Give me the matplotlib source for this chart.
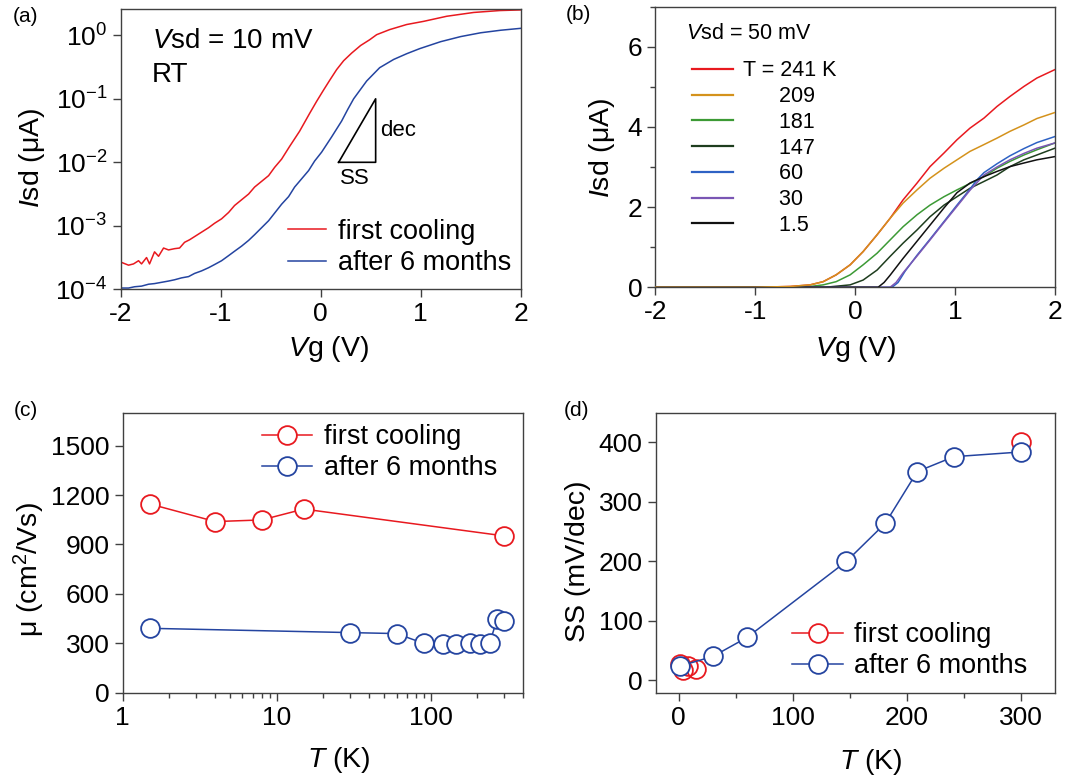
import numpy as np
import matplotlib
matplotlib.use('Agg')
import matplotlib.pyplot as plt
from matplotlib.ticker import MultipleLocator, LogLocator, NullLocator, FuncFormatter

plt.rcParams['font.family'] = ['Liberation Sans', 'DejaVu Sans']
plt.rcParams['mathtext.fontset'] = 'custom'
plt.rcParams['mathtext.rm'] = 'Liberation Sans'
plt.rcParams['mathtext.it'] = 'Liberation Sans:italic'
plt.rcParams['mathtext.bf'] = 'Liberation Sans:bold'
plt.rcParams['axes.unicode_minus'] = False

RED = '#e8191f'
BLUE = '#2444a0'

# (a) transfer curves at room temperature, log10 of Isd in uA
vg_first = [-2.00, -1.92, -1.87, -1.82, -1.79, -1.74, -1.71, -1.66, -1.62, -1.57,
            -1.52, -1.46, -1.41, -1.36, -1.31, -1.26, -1.19, -1.12, -1.06, -0.99,
            -0.92, -0.86, -0.79, -0.72, -0.66, -0.59, -0.52, -0.46, -0.39, -0.31,
            -0.21, -0.11, -0.04, 0.03, 0.09, 0.16, 0.23, 0.31, 0.40, 0.49,
            0.56, 0.69, 0.86, 1.03, 1.26, 1.53, 1.79, 2.00]
logi_first = [-3.57, -3.62, -3.60, -3.55, -3.60, -3.50, -3.60, -3.41, -3.48, -3.35,
              -3.38, -3.36, -3.35, -3.26, -3.22, -3.17, -3.10, -3.03, -2.96, -2.89,
              -2.79, -2.68, -2.59, -2.50, -2.39, -2.30, -2.21, -2.08, -1.95, -1.75,
              -1.51, -1.23, -1.04, -0.86, -0.71, -0.54, -0.40, -0.28, -0.16, -0.07,
              0.01, 0.09, 0.17, 0.22, 0.30, 0.36, 0.39, 0.40]
vg_aged = [-2.00, -1.92, -1.86, -1.79, -1.72, -1.66, -1.59, -1.52, -1.46, -1.39,
           -1.32, -1.26, -1.19, -1.12, -1.06, -0.99, -0.92, -0.86, -0.79, -0.72,
           -0.66, -0.59, -0.52, -0.46, -0.39, -0.32, -0.26, -0.19, -0.12, -0.06,
           0.01, 0.11, 0.21, 0.27, 0.33, 0.46, 0.59, 0.73, 0.86, 0.99,
           1.20, 1.40, 1.60, 1.80, 2.00]
logi_aged = [-3.98, -3.98, -3.96, -3.95, -3.92, -3.91, -3.89, -3.87, -3.85, -3.82,
             -3.80, -3.75, -3.71, -3.66, -3.61, -3.55, -3.47, -3.40, -3.32, -3.23,
             -3.14, -3.03, -2.92, -2.80, -2.66, -2.54, -2.39, -2.26, -2.13, -1.98,
             -1.84, -1.60, -1.35, -1.17, -1.00, -0.72, -0.51, -0.38, -0.29, -0.21,
             -0.10, -0.02, 0.04, 0.08, 0.11]
ss_tri_vg = [0.18, 0.55, 0.55, 0.18]
ss_tri_i = [1e-2, 1e-2, 1e-1, 1e-2]

# (b) transfer curves at Vsd = 50 mV for several temperatures (Isd in uA)
temps_b = ['241', '209', '181', '147', '60', '30', '1.5']
colors_b = [RED, '#d4921c', '#3c9a35', '#1e3d1e', '#2e62c4', '#7a56b4', '#111111']
vg_b = [
    [-2.0, -1.0, -0.65, -0.45, -0.32, -0.19, -0.05, 0.08, 0.22, 0.35, 0.48, 0.62,
     0.75, 0.89, 1.02, 1.15, 1.29, 1.42, 1.55, 1.69, 1.82, 2.0],
    [-2.0, -1.0, -0.65, -0.45, -0.32, -0.19, -0.05, 0.08, 0.22, 0.35, 0.48, 0.62,
     0.75, 0.89, 1.02, 1.15, 1.29, 1.42, 1.55, 1.69, 1.82, 2.0],
    [-2.0, -0.6, -0.45, -0.32, -0.19, -0.05, 0.08, 0.22, 0.35, 0.48, 0.62, 0.75,
     0.89, 1.02, 1.15, 1.29, 1.42, 1.55, 1.69, 1.82, 2.0],
    [-2.0, -0.3, -0.05, 0.08, 0.22, 0.35, 0.48, 0.62, 0.75, 0.89, 1.02, 1.15,
     1.29, 1.42, 1.55, 1.69, 1.82, 2.0],
    [-2.0, 0.37, 0.43, 0.50, 0.62, 0.75, 0.89, 1.02, 1.15, 1.22, 1.29, 1.42,
     1.55, 1.69, 1.82, 2.0],
    [-2.0, 0.35, 0.41, 0.48, 0.62, 0.75, 0.89, 1.02, 1.15, 1.29, 1.42, 1.55,
     1.69, 1.82, 2.0],
    [-2.0, 0.23, 0.29, 0.35, 0.48, 0.62, 0.75, 0.89, 1.02, 1.15, 1.29, 1.42,
     1.55, 1.69, 1.82, 2.0],
]
isd_b = [
    [0, 0, 0.02, 0.06, 0.14, 0.31, 0.56, 0.89, 1.31, 1.72, 2.18, 2.60,
     3.01, 3.35, 3.68, 3.97, 4.22, 4.51, 4.76, 5.01, 5.22, 5.43],
    [0, 0, 0.02, 0.06, 0.14, 0.31, 0.56, 0.89, 1.31, 1.72, 2.10, 2.43,
     2.72, 2.97, 3.18, 3.39, 3.56, 3.72, 3.89, 4.05, 4.21, 4.36],
    [0, 0, 0.02, 0.06, 0.14, 0.31, 0.56, 0.85, 1.18, 1.51, 1.81, 2.05,
     2.26, 2.43, 2.59, 2.76, 2.97, 3.14, 3.30, 3.43, 3.60],
    [0, 0, 0.06, 0.18, 0.43, 0.77, 1.10, 1.43, 1.76, 2.05, 2.26, 2.47,
     2.64, 2.80, 3.01, 3.18, 3.30, 3.47],
    [0, 0, 0.12, 0.40, 0.80, 1.20, 1.64, 2.05, 2.45, 2.68, 2.86, 3.08,
     3.28, 3.46, 3.61, 3.76],
    [0, 0, 0.12, 0.36, 0.78, 1.18, 1.62, 2.02, 2.42, 2.80, 3.00, 3.18,
     3.34, 3.47, 3.60],
    [0, 0, 0.12, 0.30, 0.72, 1.15, 1.55, 1.98, 2.36, 2.60, 2.76, 2.89,
     3.01, 3.10, 3.18, 3.26],
]

# (c) mobility vs temperature
t_mu_first = [1.5, 4, 8, 15, 300]
mu_first = [1146, 1039, 1049, 1115, 952]
t_mu_aged = [1.5, 30, 60, 90, 120, 147, 181, 209, 241, 270, 300]
mu_aged = [391, 365, 359, 300, 296, 296, 304, 296, 300, 446, 438]

# (d) subthreshold swing vs temperature
t_ss_first = [1.5, 4, 8, 15, 300]
ss_first = [28, 18, 24, 19, 400]
t_ss_aged = [1.5, 30, 60, 147, 181, 209, 241, 300]
ss_aged = [24, 40, 72, 200, 264, 351, 376, 384]

TICK_FS = 19
LABEL_FS = 20.5
LEG_FS = 19.5
FRAME = '#404040'


def style_axes(ax):
    for s in ax.spines.values():
        s.set_color(FRAME)
        s.set_linewidth(1.0)
    ax.tick_params(which='both', direction='out', color=FRAME, width=1.0,
                   labelsize=TICK_FS, top=False, right=False, pad=4)
    ax.tick_params(which='major', length=5.5)
    ax.tick_params(which='minor', length=3.5)


fig = plt.figure(figsize=(10.81, 7.80), dpi=100)

# ---- (a)
ax = fig.add_axes([0.1115, 0.6291, 0.3702, 0.359])
style_axes(ax)
ax.plot(vg_first, 10 ** np.array(logi_first), color=RED, lw=1.1, label='first cooling')
ax.plot(vg_aged, 10 ** np.array(logi_aged), color=BLUE, lw=1.1, label='after 6 months')
ax.plot(ss_tri_vg, ss_tri_i, color='k', lw=1.2)
ax.text(0.59, 10 ** -1.5, 'dec', va='center', ha='left', fontsize=16)
ax.text(0.34, 10 ** -2.25, 'SS', va='center', ha='center', fontsize=16)
ax.set_yscale('log')
ax.set_xlim(-2, 2)
ax.set_ylim(1e-4, 10 ** 0.41)
ax.xaxis.set_major_locator(MultipleLocator(1))
ax.yaxis.set_major_locator(LogLocator(base=10, numticks=10))
ax.yaxis.set_minor_locator(NullLocator())
ax.set_xlabel(r'$V$g (V)', fontsize=LABEL_FS)
ax.set_ylabel(r'$I$sd (μA)', fontsize=LABEL_FS)
ax.xaxis.set_label_coords(0.52, -0.16)
ax.yaxis.set_label_coords(-0.184, 0.47)
ax.text(0.078, 0.861, r'$V$sd = 10 mV', transform=ax.transAxes, fontsize=20, va='baseline')
ax.text(0.078, 0.741, 'RT', transform=ax.transAxes, fontsize=20, va='baseline')
ax.legend(loc='center left', bbox_to_anchor=(0.4175, 0.15), frameon=False,
          fontsize=LEG_FS, handlelength=1.4, handletextpad=0.45, labelspacing=0.2,
          borderpad=0, borderaxespad=0)

# ---- (b)
ax = fig.add_axes([0.6063, 0.6317, 0.3695, 0.3597])
style_axes(ax)
for i, (t, c, x, y) in enumerate(zip(temps_b, colors_b, vg_b, isd_b)):
    lab = 'T = %s K' % t if i == 0 else '      ' + t
    z = 3 if c == '#d4921c' else 2
    ax.plot(x, y, color=c, lw=1.1, label=lab, zorder=z)
ax.set_xlim(-2, 2)
ax.set_ylim(0, 7)
ax.xaxis.set_major_locator(MultipleLocator(1))
ax.yaxis.set_major_locator(MultipleLocator(2))
ax.yaxis.set_minor_locator(MultipleLocator(1))
ax.set_xlabel(r'$V$g (V)', fontsize=LABEL_FS)
ax.set_ylabel(r'$I$sd (μA)', fontsize=LABEL_FS)
ax.xaxis.set_label_coords(0.50, -0.165)
ax.yaxis.set_label_coords(-0.096, 0.496)
ax.text(0.077, 0.905, r'$V$sd = 50 mV', transform=ax.transAxes, fontsize=15.5, va='center')
leg = ax.legend(loc='center left', bbox_to_anchor=(0.0904, 0.496), frameon=False,
                fontsize=15.5, handlelength=1.92, handletextpad=0.48, labelspacing=0.22,
                borderpad=0, borderaxespad=0)
for h in leg.get_lines():
    h.set_linewidth(1.6)

# ---- (c)
ax = fig.add_axes([0.1134, 0.1119, 0.3708, 0.359])
style_axes(ax)
mk = dict(marker='o', ms=13.5, mfc='white', mew=1.3, lw=1.1)
ax.plot(t_mu_first, mu_first, color=RED, label='first cooling', **mk)
ax.plot(t_mu_aged, mu_aged, color=BLUE, label='after 6 months', **mk)
ax.set_xscale('log')
ax.set_xlim(1, 400)
ax.set_ylim(0, 1700)
ax.yaxis.set_major_locator(MultipleLocator(300))
ax.xaxis.set_major_locator(LogLocator(base=10, numticks=10))
ax.xaxis.set_minor_locator(LogLocator(base=10, subs=np.arange(2, 10), numticks=20))
ax.xaxis.set_major_formatter(FuncFormatter(lambda v, p: '%g' % v))
ax.xaxis.set_minor_formatter(FuncFormatter(lambda v, p: ''))
ax.set_xlabel(r'$T$ (K)', fontsize=LABEL_FS)
ax.set_ylabel(r'μ (cm$^2$/Vs)', fontsize=LABEL_FS)
ax.xaxis.set_label_coords(0.54, -0.185)
ax.yaxis.set_label_coords(-0.189, 0.438)
ax.legend(loc='center left', bbox_to_anchor=(0.347, 0.857), frameon=False,
          fontsize=LEG_FS, handlelength=1.86, handletextpad=0.43, labelspacing=0.2,
          borderpad=0, borderaxespad=0)

# ---- (d)
ax = fig.add_axes([0.6066, 0.1119, 0.3698, 0.359])
style_axes(ax)
ax.plot(t_ss_aged, ss_aged, color=BLUE, zorder=3, **mk)
ax.plot(t_ss_first, ss_first, color=RED, ls='none', marker='o', ms=13.5,
        mfc='none', mew=1.3, zorder=2)
ax.set_xlim(-20, 330)
ax.set_ylim(-21, 450)
ax.xaxis.set_major_locator(MultipleLocator(100))
ax.xaxis.set_minor_locator(MultipleLocator(50))
ax.yaxis.set_major_locator(MultipleLocator(100))
ax.set_xlabel(r'$T$ (K)', fontsize=LABEL_FS)
ax.set_ylabel('SS (mV/dec)', fontsize=LABEL_FS)
ax.xaxis.set_label_coords(0.537, -0.195)
ax.yaxis.set_label_coords(-0.162, 0.469)
handles = [plt.Line2D([], [], color=RED, **mk), plt.Line2D([], [], color=BLUE, **mk)]
ax.legend(handles, ['first cooling', 'after 6 months'], loc='center left',
          bbox_to_anchor=(0.342, 0.15), frameon=False, fontsize=LEG_FS,
          handlelength=1.86, handletextpad=0.43, labelspacing=0.2,
          borderpad=0, borderaxespad=0)

# panel letters
for lab, x, y in [('(a)', 13, 17), ('(b)', 566, 15), ('(c)', 14, 410), ('(d)', 564, 410)]:
    fig.text(x / 1081, 1 - y / 780, lab, fontsize=15, va='center', ha='left')

fig.savefig('out.png', dpi=100)
